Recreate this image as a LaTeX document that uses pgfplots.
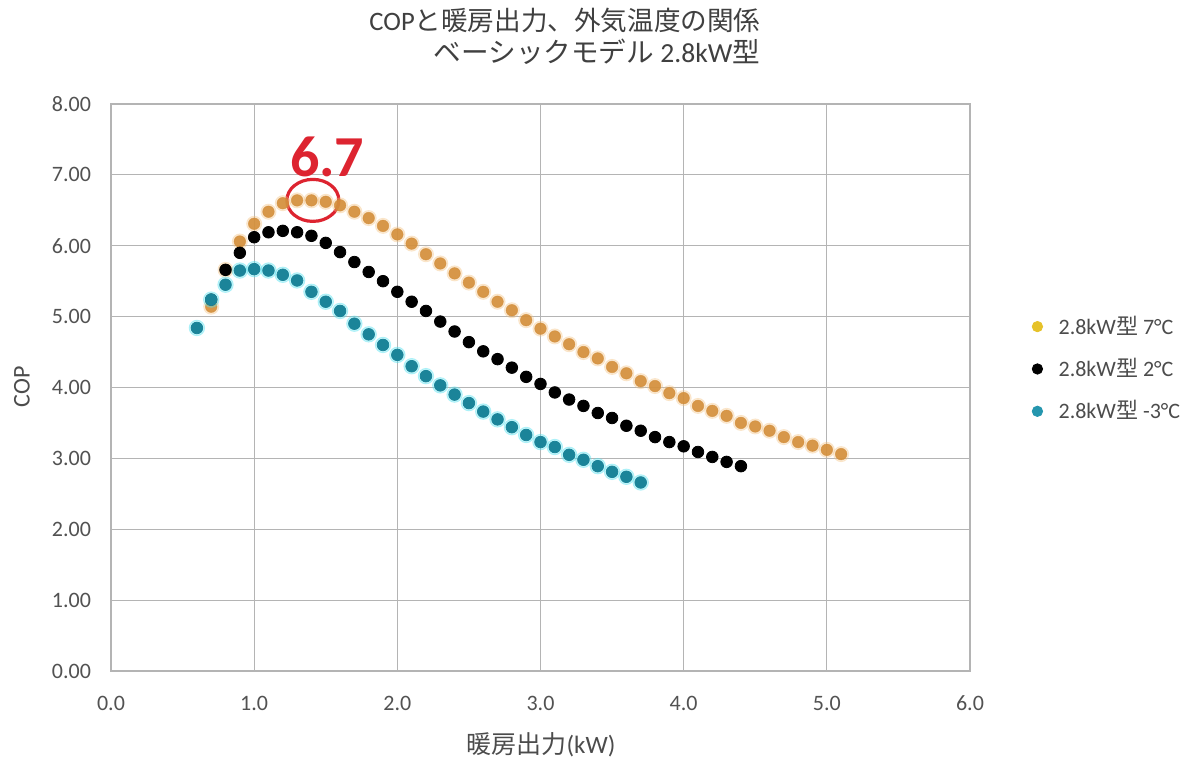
\documentclass[border=0pt]{standalone}
\usepackage{fontspec}
\setmainfont{Carlito}
\newfontfamily\jp{Noto Sans CJK JP}
\usepackage{pgfplots}
\pgfplotsset{compat=1.18}
\usepackage{pgfplotstable}
\definecolor{orcore}{HTML}{D38E3A}
\definecolor{orhalo}{HTML}{F6C27E}
\definecolor{tlcore}{HTML}{1B8499}
\definecolor{tlhalo}{HTML}{52E3F2}
\definecolor{legyel}{HTML}{E6C229}
\definecolor{legtl}{HTML}{2596AE}
\definecolor{gridc}{HTML}{B4B4B4}
\definecolor{annred}{HTML}{DD2430}
\pgfplotstableread{
x y
0.7 5.14
0.8 5.66
0.9 6.06
1.0 6.31
1.1 6.48
1.2 6.60
1.3 6.64
1.4 6.64
1.5 6.62
1.6 6.57
1.7 6.48
1.8 6.39
1.9 6.28
2.0 6.16
2.1 6.03
2.2 5.88
2.3 5.75
2.4 5.61
2.5 5.48
2.6 5.35
2.7 5.21
2.8 5.09
2.9 4.95
3.0 4.83
3.1 4.72
3.2 4.61
3.3 4.50
3.4 4.41
3.5 4.29
3.6 4.20
3.7 4.09
3.8 4.02
3.9 3.92
4.0 3.85
4.1 3.74
4.2 3.67
4.3 3.60
4.4 3.50
4.5 3.45
4.6 3.39
4.7 3.30
4.8 3.23
4.9 3.18
5.0 3.12
5.1 3.06
}\tseven
\pgfplotstableread{
x y
0.7 5.24
0.8 5.66
0.9 5.90
1.0 6.12
1.1 6.19
1.2 6.21
1.3 6.19
1.4 6.14
1.5 6.04
1.6 5.91
1.7 5.77
1.8 5.63
1.9 5.50
2.0 5.35
2.1 5.21
2.2 5.08
2.3 4.93
2.4 4.79
2.5 4.64
2.6 4.51
2.7 4.40
2.8 4.28
2.9 4.15
3.0 4.05
3.1 3.93
3.2 3.83
3.3 3.74
3.4 3.64
3.5 3.57
3.6 3.46
3.7 3.39
3.8 3.30
3.9 3.23
4.0 3.17
4.1 3.09
4.2 3.02
4.3 2.95
4.4 2.89
}\ttwo
\pgfplotstableread{
x y
0.6 4.84
0.7 5.24
0.8 5.45
0.9 5.65
1.0 5.67
1.1 5.65
1.2 5.59
1.3 5.51
1.4 5.35
1.5 5.21
1.6 5.08
1.7 4.90
1.8 4.75
1.9 4.60
2.0 4.46
2.1 4.30
2.2 4.16
2.3 4.03
2.4 3.90
2.5 3.78
2.6 3.66
2.7 3.55
2.8 3.44
2.9 3.33
3.0 3.23
3.1 3.16
3.2 3.05
3.3 2.98
3.4 2.89
3.5 2.81
3.6 2.74
3.7 2.66
}\tmthree
\begin{document}
\begin{tikzpicture}[x=1pt,y=1pt]
\useasboundingbox (0,0) rectangle (600,381.5);
\fill[white] (0,0) rectangle (600,381.5);
\begin{axis}[
  at={(55.5pt,46pt)}, anchor=south west,
  scale only axis, width=429.5pt, height=283.5pt,
  xmin=0, xmax=6, ymin=0, ymax=8,
  xtick={0,1,...,6}, ytick={0,1,...,8},
  grid=major,
  major grid style={color=gridc, line width=0.6pt},
  axis line style={color=gridc, line width=0.6pt},
  tick style={draw=none},
  /pgf/number format/assume math mode=true,
  ticklabel style={font=\fontsize{11}{13}\selectfont, text=black!68},
  xticklabel style={/pgf/number format/.cd, fixed, fixed zerofill, precision=1},
  yticklabel style={/pgf/number format/.cd, fixed, fixed zerofill, precision=2},
  xticklabel shift=9pt,
  yticklabel shift=6.5pt,
  clip=false,
  legend style={at={(1.065,0.641)}, anchor=north west, draw=none, fill=none,
    font=\fontsize{11}{13}\selectfont, text=black!70, row sep=6.5pt,
    /tikz/every odd column/.append style={column sep=6pt}},
  legend cell align=left,
]
% 7C
\addplot[only marks, mark=*, mark size=3.8pt, color=orhalo, opacity=0.3, forget plot] table[x=x,y=y]{\tseven};
\addplot[only marks, mark=*, mark size=2.9pt, color=orcore, fill opacity=0.9, draw opacity=0.6, forget plot] table[x=x,y=y]{\tseven};
% 2C
\addplot[only marks, mark=*, mark size=2.9pt, color=black, forget plot] table[x=x,y=y]{\ttwo};
% -3C
\addplot[only marks, mark=*, mark size=3.9pt, color=tlhalo, opacity=0.35, forget plot] table[x=x,y=y]{\tmthree};
\addplot[only marks, mark=*, mark size=2.9pt, color=tlcore, forget plot] table[x=x,y=y]{\tmthree};
\addlegendimage{only marks, mark=*, mark size=2.6pt, color=legyel}
\addlegendentry{2.8kW{\jp 型} 7°C}
\addlegendimage{only marks, mark=*, mark size=2.6pt, color=black}
\addlegendentry{2.8kW{\jp 型} 2°C}
\addlegendimage{only marks, mark=*, mark size=2.6pt, color=legtl}
\addlegendentry{2.8kW{\jp 型} -3°C}
\draw[annred, line width=1.6pt] (axis cs:1.41,6.64) ellipse [x radius=13pt, y radius=10.5pt];
\node[text=annred, font=\bfseries\fontsize{29}{30}\selectfont] at (axis cs:1.51,7.25) {6.7};
\end{axis}
\node[text=black!75, font=\fontsize{13.3}{15}\selectfont] at (282.5,371.5) {COP{\jp と暖房出力、外気温度の関係}};
\node[text=black!75, font=\fontsize{13.8}{15}\selectfont] at (298.5,355.5) {{\jp ベーシックモデル} 2.8kW{\jp 型}};
\node[text=black!70, font=\fontsize{12.5}{14}\selectfont] at (270.5,9) {{\jp 暖房出力}(kW)};
\node[text=black!70, font=\fontsize{12}{14}\selectfont, rotate=90] at (11,188) {COP};
\end{tikzpicture}
\end{document}
